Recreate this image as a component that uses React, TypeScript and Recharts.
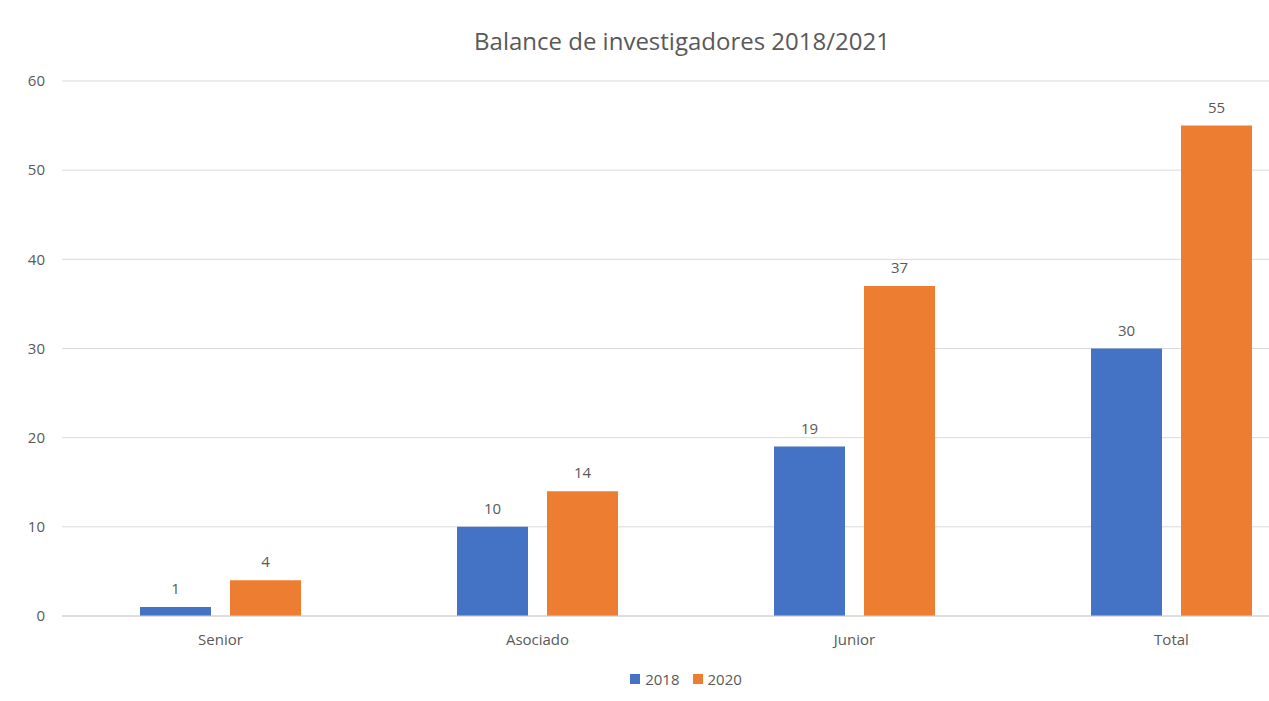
import { BarChart, Bar, XAxis, YAxis, CartesianGrid, LabelList } from 'recharts'

const categories = ['Senior', 'Asociado', 'Junior', 'Total']
const values2018 = [1, 10, 19, 30]
const values2020 = [4, 14, 37, 55]
const yTicks = [0, 10, 20, 30, 40, 50, 60]

const FONT = '"Open Sans", sans-serif'
const TEXT = '#595959'
const BLUE = '#4472C4'
const ORANGE = '#ED7D31'

const data = categories.map((name, i) => ({
  name,
  y2018: values2018[i],
  y2020: values2020[i],
}))

const legendItems = [
  { label: '2018', color: BLUE },
  { label: '2020', color: ORANGE },
]

export default function App() {
  return (
    <div style={{ position: 'absolute', left: 0, top: 0, width: 1269, height: 701, overflow: 'hidden', background: '#fff' }}>
      <div
        style={{
          position: 'absolute',
          left: 0,
          width: 1364,
          top: 26,
          textAlign: 'center',
          fontFamily: FONT,
          fontSize: 24,
          color: TEXT,
          lineHeight: '30px',
        }}
      >
        Balance de investigadores 2018/2021
      </div>
      <BarChart
        width={1330}
        height={701}
        data={data}
        margin={{ top: 81, right: 0, left: 0, bottom: 0 }}
        barCategoryGap="24.6%"
        barGap={19}
      >
        <CartesianGrid stroke="#D9D9D9" vertical={false} />
        <XAxis
          dataKey="name"
          height={85}
          axisLine={{ stroke: '#D0D0D0' }}
          tickLine={false}
          tickSize={0}
          tickMargin={18}
          tick={{ fontFamily: FONT, fontSize: 15, fill: TEXT }}
        />
        <YAxis
          width={62}
          domain={[0, 60]}
          ticks={yTicks}
          axisLine={false}
          tickLine={false}
          tickSize={0}
          tickMargin={17}
          tick={{ fontFamily: FONT, fontSize: 15, fill: TEXT }}
        />
        <Bar dataKey="y2018" name="2018" fill={BLUE} barSize={71} isAnimationActive={false}>
          <LabelList dataKey="y2018" position="top" offset={13} style={{ fontFamily: FONT, fontSize: 15, fill: TEXT }} />
        </Bar>
        <Bar dataKey="y2020" name="2020" fill={ORANGE} barSize={71} isAnimationActive={false}>
          <LabelList dataKey="y2020" position="top" offset={13} style={{ fontFamily: FONT, fontSize: 15, fill: TEXT }} />
        </Bar>
      </BarChart>
      <div
        style={{
          position: 'absolute',
          left: 0,
          width: 1372,
          top: 668,
          display: 'flex',
          justifyContent: 'center',
          gap: 13,
          fontFamily: FONT,
          fontSize: 15,
          color: TEXT,
          lineHeight: '22px',
        }}
      >
        {legendItems.map((it) => (
          <div key={it.label} style={{ display: 'flex', alignItems: 'center', gap: 5 }}>
            <span style={{ width: 10, height: 10, background: it.color, display: 'inline-block' }} />
            <span>{it.label}</span>
          </div>
        ))}
      </div>
    </div>
  )
}
